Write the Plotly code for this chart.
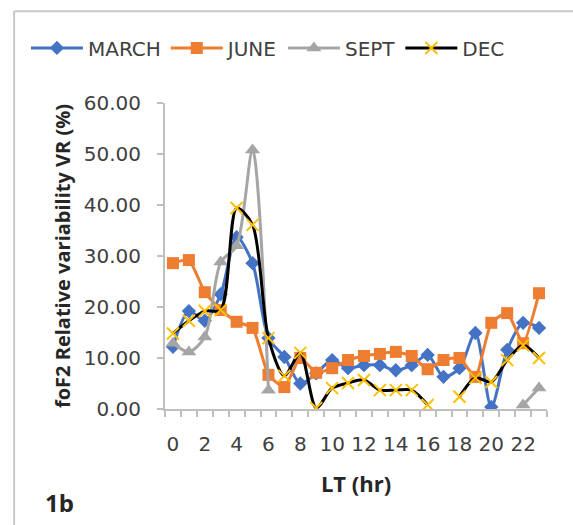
import plotly.graph_objects as go

# Local time (hours) and foF2 relative variability VR (%) per season
hours = list(range(24))
march = [12.2, 19.2, 17.3, 22.5, 33.7, 28.6, 13.9, 10.2, 5.0, 7.0, 9.6, 8.0,
         8.6, 8.6, 7.6, 8.6, 10.6, 6.3, 8.0, 14.9, 0.4, 11.6, 16.9, 15.9]
june = [28.6, 29.2, 22.9, 19.4, 17.1, 15.9, 6.7, 4.3, 10.0, 7.1, 8.0, 9.6,
        10.4, 10.8, 11.2, 10.4, 7.8, 9.6, 10.0, 6.3, 16.9, 18.8, 12.9, 22.7]
sept = [12.9, 11.2, 14.1, 28.8, 32.0, 50.8, 3.7, None, None, None, None, None,
        None, None, None, None, None, None, None, None, None, None, 0.8, 4.1]
dec = [14.8, 17.3, 19.2, 19.4, 39.4, 36.1, 13.9, 6.5, 11.0, 0.2, 4.1, 5.1,
       5.7, 3.7, 3.7, 3.7, 0.8, None, 2.4, 6.1, 5.3, 9.6, 12.5, 10.0]

x_tick_vals = list(range(0, 24, 2))
x_tick_text = [str(v) for v in x_tick_vals]
y_tick_vals = [0, 10, 20, 30, 40, 50, 60]

TICK_FONT = "DejaVu Sans"
TITLE_FONT = "Open Sans"
TXT = "#404040"
DARK = "#262626"
AXIS = "#BFBFBF"

fig = go.Figure()
fig.add_trace(go.Scatter(
    x=hours, y=march, name="MARCH", mode="lines+markers",
    line=dict(color="#4472C4", width=3, shape="spline", smoothing=0.8),
    marker=dict(symbol="diamond", size=11, color="#4472C4")))
fig.add_trace(go.Scatter(
    x=hours, y=june, name="JUNE", mode="lines+markers",
    line=dict(color="#ED7D31", width=3, shape="spline", smoothing=0.5),
    marker=dict(symbol="square", size=12, color="#ED7D31")))
fig.add_trace(go.Scatter(
    x=hours, y=sept, name="SEPT", mode="lines+markers",
    line=dict(color="#A5A5A5", width=3, shape="spline", smoothing=0.8),
    marker=dict(symbol="triangle-up", size=13, color="#A5A5A5")))
fig.add_trace(go.Scatter(
    x=hours, y=dec, name="DEC", mode="lines+markers",
    line=dict(color="#000000", width=3, shape="spline", smoothing=0.8),
    marker=dict(symbol="x-thin", size=12, color="#FFC000",
                line=dict(color="#FFC000", width=2))))

fig.update_layout(
    width=573, height=525,
    margin=dict(l=165, r=26, t=103, b=116),
    paper_bgcolor="white", plot_bgcolor="white",
    font=dict(family=TICK_FONT, color=TXT),
    showlegend=True,
    legend=dict(orientation="h", xref="paper", yref="paper",
                x=-0.364, y=1.18, xanchor="left", yanchor="middle",
                font=dict(family=TICK_FONT, size=20, color=TXT),
                itemwidth=52, tracegroupgap=0, bgcolor="rgba(0,0,0,0)"),
    xaxis=dict(
        range=[-0.5, 23.5], tickmode="array", tickvals=x_tick_vals,
        ticktext=x_tick_text, ticks="", showgrid=False, zeroline=False,
        showline=True, linecolor=AXIS, linewidth=2,
        tickfont=dict(size=20, color=TXT), ticklabelstandoff=16,
        minor=dict(ticks="outside", tick0=-0.5, dtick=1, ticklen=6,
                   tickcolor=AXIS, tickwidth=1.5, showgrid=False),
        title=dict(text="<b>LT (hr)</b>",
                   font=dict(family=TITLE_FONT, size=22, color=DARK),
                   standoff=22)),
    yaxis=dict(
        range=[0, 60], tickvals=y_tick_vals, tickformat=".2f",
        ticks="outside", ticklen=6, tickcolor=AXIS, tickwidth=1.5,
        showgrid=False, zeroline=False, showline=True, linecolor=AXIS,
        linewidth=2, tickfont=dict(size=20, color=TXT), ticklabelstandoff=12,
        title=dict(text="<b>foF2 Relative variability VR (%)</b>",
                   font=dict(family=TITLE_FONT, size=20, color=DARK),
                   standoff=8)),
    shapes=[
        dict(type="line", xref="paper", yref="paper", x0=-0.395, x1=-0.395,
             y0=1.30, y1=-0.40, line=dict(color="#C8C8C8", width=2)),
        dict(type="line", xref="paper", yref="paper", x0=-0.395, x1=1.10,
             y0=1.30, y1=1.30, line=dict(color="#C8C8C8", width=2)),
    ],
    annotations=[
        dict(text="<b>1b</b>", xref="paper", yref="paper", x=-0.275, y=-0.307,
             xanchor="center", yanchor="middle", showarrow=False,
             font=dict(family=TITLE_FONT, size=24, color=DARK)),
    ],
)

fig.write_html("out.html")
